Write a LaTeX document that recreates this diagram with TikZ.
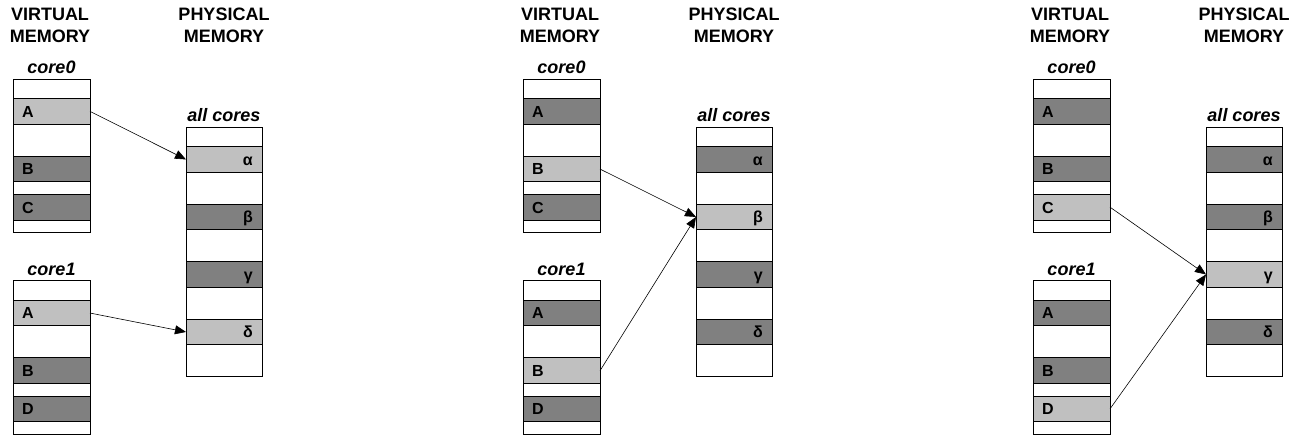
\documentclass[tikz,border=0pt]{standalone}
\usepackage{fontspec}
\setmainfont{Liberation Sans}
\usetikzlibrary{arrows.meta}
\definecolor{lightband}{RGB}{192,192,192}
\definecolor{darkband}{RGB}{128,128,128}

\tikzset{
  column/.style={draw=black, line width=0.9pt, fill=white, anchor=north west, inner sep=0pt, outer sep=0pt},
  band/.style={draw=black, line width=0.9pt, anchor=north west, inner sep=0pt, outer sep=0pt},
  head/.style={font=\fontsize{18}{22}\selectfont\bfseries, align=center, anchor=north, inner sep=0pt},
  coretitle/.style={font=\fontsize{18}{22}\selectfont\bfseries\itshape, anchor=base, inner sep=0pt},
  vlab/.style={font=\fontsize{16}{18}\selectfont\bfseries, anchor=base west, inner sep=0pt},
  plab/.style={font=\fontsize{16}{18}\selectfont\bfseries, anchor=base east, inner sep=0pt},
  map/.style={line width=0.6pt, -{Triangle[length=11pt,width=9pt]}},
}

% virtual memory column: name, title, then label/fill of its three pages
\newcommand\vcol[8]{%
  \node[column, minimum width=77pt, minimum height=153.5pt] (#1) at (0,0) {};
  \node[coretitle] (#1-t) at (38.5,-5) {#2};
  \node[band, fill=#4, minimum width=77pt, minimum height=25.7pt] (#1-1) at (0,19.5) {};
  \node[band, fill=#6, minimum width=77pt, minimum height=25.7pt] (#1-2) at (0,77.2) {};
  \node[band, fill=#8, minimum width=77pt, minimum height=25.7pt] (#1-3) at (0,115.3) {};
  \node[vlab] (#1-1l) at ([xshift=9pt,yshift=7pt]#1-1.south west) {#3};
  \node[vlab] (#1-2l) at ([xshift=9pt,yshift=7pt]#1-2.south west) {#5};
  \node[vlab] (#1-3l) at ([xshift=9pt,yshift=7pt]#1-3.south west) {#7};
}

% physical memory column: name, then fills of the four frames
\newcommand\pcol[5]{%
  \node[column, minimum width=76pt, minimum height=249.7pt] (#1) at (0,0) {};
  \node[coretitle] (#1-t) at (38,-5) {all cores};
  \node[band, fill=#2, minimum width=76pt, minimum height=25.5pt] (#1-1) at (0,19.7) {};
  \node[band, fill=#3, minimum width=76pt, minimum height=25.5pt] (#1-2) at (0,77.2) {};
  \node[band, fill=#4, minimum width=76pt, minimum height=25.5pt] (#1-3) at (0,134.7) {};
  \node[band, fill=#5, minimum width=76pt, minimum height=25.5pt] (#1-4) at (0,192.2) {};
  \node[plab] (#1-1l) at ([xshift=-9pt,yshift=7pt]#1-1.south east) {α};
  \node[plab] (#1-2l) at ([xshift=-9pt,yshift=7pt]#1-2.south east) {β};
  \node[plab] (#1-3l) at ([xshift=-9pt,yshift=7pt]#1-3.south east) {γ};
  \node[plab] (#1-4l) at ([xshift=-9pt,yshift=7pt]#1-4.south east) {δ};
}

\begin{document}
\begin{tikzpicture}[x=1pt, y=-1pt]
\useasboundingbox (0,0) rectangle (1309,441);

% ---- first mapping: private pages ----
\node[head] (ahv) at (50,8) {VIRTUAL\\MEMORY};
\node[head] (ahp) at (224,8) {PHYSICAL\\MEMORY};
\begin{scope}[shift={(13,79)}]
  \vcol{a0}{core0}{A}{lightband}{B}{darkband}{C}{darkband}
\end{scope}
\begin{scope}[shift={(13,280.7)}]
  \vcol{a1}{core1}{A}{lightband}{B}{darkband}{D}{darkband}
\end{scope}
\begin{scope}[shift={(186,127)}]
  \pcol{ap}{lightband}{darkband}{darkband}{lightband}
\end{scope}
\draw[map] (a0-1.east) -- (ap-1.west);
\draw[map] (a1-1.east) -- (ap-4.west);

% ---- second mapping: page B shared ----
\node[head] (bhv) at (560,8) {VIRTUAL\\MEMORY};
\node[head] (bhp) at (734,8) {PHYSICAL\\MEMORY};
\begin{scope}[shift={(523,79)}]
  \vcol{b0}{core0}{A}{darkband}{B}{lightband}{C}{darkband}
\end{scope}
\begin{scope}[shift={(523,280.7)}]
  \vcol{b1}{core1}{A}{darkband}{B}{lightband}{D}{darkband}
\end{scope}
\begin{scope}[shift={(696,127)}]
  \pcol{bp}{darkband}{lightband}{darkband}{darkband}
\end{scope}
\draw[map] (b0-2.east) -- (bp-2.west);
\draw[map] (b1-2.east) -- (bp-2.west);

% ---- third mapping: C and D aliased ----
\node[head] (chv) at (1070,8) {VIRTUAL\\MEMORY};
\node[head] (chp) at (1244,8) {PHYSICAL\\MEMORY};
\begin{scope}[shift={(1033,79)}]
  \vcol{c0}{core0}{A}{darkband}{B}{darkband}{C}{lightband}
\end{scope}
\begin{scope}[shift={(1033,280.7)}]
  \vcol{c1}{core1}{A}{darkband}{B}{darkband}{D}{lightband}
\end{scope}
\begin{scope}[shift={(1206,127)}]
  \pcol{cp}{darkband}{darkband}{lightband}{darkband}
\end{scope}
\draw[map] (c0-3.east) -- (cp-3.west);
\draw[map] (c1-3.east) -- (cp-3.west);
\end{tikzpicture}
\end{document}
